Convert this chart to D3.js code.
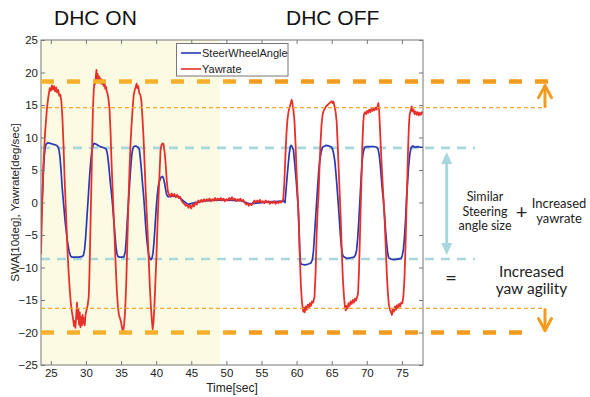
<!DOCTYPE html>
<html>
<head>
<meta charset="utf-8">
<script src="https://cdn.jsdelivr.net/npm/d3@7"></script>
<style>
  body { margin: 0; background: #fff; }
  svg { display: block; }
</style>
</head>
<body>
<div id="chart"></div>
<script>
// values, [time sec, value]
var swa = [
  [23.6,-4],[23.75,0],[23.9,4],[24.05,7],[24.2,8.6],[24.35,9.0],[24.6,9.2],[24.9,9.1],[25.2,9.0],[25.5,8.9],
  [25.8,8.8],[26.0,8.6],[26.15,8.2],[26.3,7],[26.45,5],[26.6,2.5],[26.8,0],[27.0,-2.5],[27.2,-4.5],[27.4,-6.2],
  [27.6,-7.5],[27.8,-8.2],[28.0,-8.4],[28.5,-8.4],[29.0,-8.4],[29.5,-8.3],[29.65,-8.1],[29.8,-7.3],[29.95,-5.5],
  [30.1,-3],[30.25,-0.5],[30.4,2],[30.55,4.5],[30.7,6.5],[30.85,8],[31.0,8.8],[31.15,9.1],[31.4,9.0],[31.7,8.8],
  [32.0,8.6],[32.3,8.5],[32.6,8.4],[32.9,8.2],[33.05,7.5],[33.2,6.2],[33.35,4.5],[33.5,2.8],[33.65,1.3],[33.8,-0.5],
  [33.95,-2.5],[34.1,-4.5],[34.25,-6.5],[34.4,-7.8],[34.55,-8.3],[34.8,-8.4],[35.1,-8.4],[35.4,-8.4],[35.6,-7.6],
  [35.75,-5.5],[35.9,-2.5],[36.05,0],[36.2,2.5],[36.35,5],[36.5,7],[36.65,8.2],[36.8,8.6],[37.1,8.7],[37.4,8.5],
  [37.6,8.2],[37.75,6.8],[37.9,5],[38.05,3],[38.2,1.2],[38.35,-1],[38.5,-3.5],[38.65,-5.5],[38.8,-7],[38.95,-8.1],
  [39.1,-8.6],[39.25,-8.8],[39.4,-8.6],[39.55,-7.8],[39.7,-6],[39.85,-3.5],[40.0,-1],[40.15,1],[40.3,2.5],[40.5,3.4],
  [40.7,3.9],[40.9,4.0],[41.05,3.7],[41.2,3.0],[41.35,2.0],[41.5,1.2],[41.7,0.9],[43.0,1.0],[44.5,-0.3],[46.5,0.2],
  [49.0,0.4],[52.0,0.3],[53.3,-0.2],[56.0,0.1],[58.2,0.2],
  [58.35,0],[58.5,2],[58.65,4],[58.8,5.8],[58.95,7.5],[59.1,8.5],[59.2,8.8],[59.35,8.6],[59.55,8.1],[59.75,5.8],
  [59.95,3.3],[60.1,1.2],[60.25,-1],[60.35,-4],[60.45,-7.5],[60.55,-9.2],[60.7,-9.5],[61.2,-9.6],[61.6,-9.5],
  [62.05,-9.3],[62.25,-8.8],[62.4,-7.5],[62.55,-5],[62.7,-2.5],[62.85,0],[63.0,2.5],[63.15,4.8],[63.3,6.5],
  [63.5,7.8],[63.7,8.5],[64.2,8.8],[64.6,8.7],[65.0,8.5],[65.15,8.1],[65.3,7.4],[65.45,6.3],[65.6,4.5],[65.75,2.5],
  [65.9,0.3],[66.05,-2],[66.2,-4.5],[66.35,-6.5],[66.5,-7.8],[66.65,-8.3],[67.2,-8.6],[67.7,-8.5],[68.2,-8.4],
  [68.4,-8.0],[68.55,-7.3],[68.7,-5.5],[68.85,-3],[69.05,1],[69.2,4],[69.35,6.5],[69.5,7.8],[69.7,8.5],[70.0,8.6],
  [70.5,8.6],[71.0,8.6],[71.4,8.5],[71.6,8.2],[71.75,7.4],[71.9,6],[72.05,4],[72.2,2],[72.35,0.5],[72.5,-1.5],
  [72.65,-4],[72.8,-6],[72.95,-7.6],[73.1,-8.5],[73.4,-8.7],[73.9,-8.8],[74.4,-8.7],[74.9,-8.6],[75.05,-8.1],
  [75.2,-7.3],[75.35,-5.5],[75.5,-3],[75.65,0.5],[75.8,3],[75.95,5.5],[76.1,7.2],[76.25,8.2],[76.4,8.6],
  [76.55,8.7],[76.8,8.5],[77.2,8.6],[77.6,8.5],[78.0,8.5]
];

var yawrate = [
  [23.6,-8],[23.75,-1],[23.95,6],[24.2,11],[24.45,14.5],[24.65,16.3],[24.85,17.6],[25.0,17.2],[25.15,18.0],
  [25.3,17.4],[25.45,17.9],[25.6,17.1],[25.75,17.7],[25.9,16.9],[26.05,17.3],[26.2,16.4],[26.35,16.6],[26.5,15.6],
  [26.65,13],[26.8,9],[26.95,4],[27.1,0],[27.25,-4],[27.4,-8],[27.55,-11],[27.7,-13.5],[27.85,-15.5],[28.0,-16.8],
  [28.15,-17.8],[28.3,-19.0],[28.4,-18.2],[28.5,-19.3],[28.62,-17.3],[28.72,-15.4],[28.82,-17.9],[28.92,-16.4],
  [29.02,-18.8],[29.12,-16.9],[29.22,-19.2],[29.32,-17.6],[29.42,-18.9],[29.52,-17.3],[29.62,-18.6],[29.72,-17.8],
  [29.82,-18.9],[29.95,-17.2],[30.1,-16.5],[30.25,-15.8],[30.4,-14.5],[30.5,-11],[30.6,-6],[30.7,-1],[30.8,4],
  [30.9,10],[31.0,14.5],[31.1,17],[31.2,18.6],[31.3,18.2],[31.4,19.3],[31.5,20.4],[31.58,19],[31.66,19.8],
  [31.76,18.7],[31.86,19.4],[31.96,18.5],[32.06,19.1],[32.16,18.3],[32.26,18.9],[32.36,18.2],[32.46,18.7],
  [32.56,17.9],[32.66,18.2],[32.76,17.5],[32.86,17.8],[32.96,17.1],[33.06,16.8],[33.2,16],[33.35,14.5],[33.5,11],
  [33.65,6],[33.8,2],[33.95,-2],[34.1,-6],[34.25,-10],[34.4,-13.5],[34.55,-16],[34.7,-17.3],[34.85,-17.8],
  [35.0,-18.4],[35.12,-19.2],[35.25,-19.8],[35.35,-19.5],[35.45,-18.6],[35.55,-17.2],[35.65,-15],[35.75,-12],
  [35.85,-8],[35.95,-4],[36.05,0],[36.2,5],[36.35,9],[36.5,12],[36.65,14.5],[36.8,16.5],[36.95,17.3],[37.1,17.8],
  [37.22,18.3],[37.32,17.6],[37.45,17.9],[37.6,16.8],[37.75,16.6],[37.9,15.6],[38.05,13],[38.2,10],[38.35,6],
  [38.5,2],[38.65,-1.5],[38.8,-5],[38.95,-9],[39.1,-13],[39.25,-16],[39.38,-18],[39.5,-19.5],[39.62,-18.5],
  [39.75,-16],[39.9,-12],[40.05,-8],[40.2,-3],[40.35,1],[40.5,5],[40.62,8],[40.75,8.8],[40.9,9.1],[41.05,9],
  [41.2,7.8],[41.35,6],[41.5,3.5],[41.65,1.8],[41.8,1.3],[42.0,0.9],[42.2,1.4],[42.4,1.0],[42.6,1.3],[42.8,0.8],
  [43.0,1.2],[43.2,0.7],[43.4,0.9],[43.6,0.3],[43.8,0.0],[44.0,-0.2],[44.2,-0.5],[44.4,-0.3],[44.6,-0.8],
  [44.8,-0.4],[45.0,-0.9],[45.2,-0.3],[45.4,-0.6],[45.6,0.0],[45.8,-0.3],[46.0,0.3],[46.2,0.0],[46.4,0.4],
  [46.6,0.1],[46.8,0.5],[47.0,0.2],[47.2,0.5],[47.4,0.3],[47.6,0.6],[47.8,0.2],[48.0,0.5],[48.2,0.3],[48.4,0.7],
  [48.6,0.3],[48.8,0.6],[49.0,0.4],[49.2,0.7],[49.4,0.3],[49.6,0.6],[49.8,0.2],[50.0,0.5],[50.2,0.3],[50.4,0.7],
  [50.6,0.4],[50.8,0.8],[51.0,0.4],[51.2,0.6],[51.4,0.2],[51.6,0.5],[51.8,0.3],[52.0,0.6],[52.2,0.2],[52.4,0.4],
  [52.6,0.0],[52.8,-0.3],[53.0,-0.1],[53.2,-0.5],[53.4,-0.2],[53.6,-0.4],[53.8,0.0],[54.0,0.3],[54.2,0.0],
  [54.4,0.3],[54.6,0.1],[54.8,0.4],[55.0,0.0],[55.2,0.2],[55.4,-0.1],[55.6,0.3],[55.8,0.0],[56.0,0.2],[56.2,-0.2],
  [56.4,0.1],[56.6,-0.1],[56.8,0.2],[57.0,-0.2],[57.2,0.1],[57.4,-0.1],[57.6,0.2],[57.8,0.0],[58.0,0.3],
  [58.1,0.5],[58.25,3],[58.4,7],[58.55,10.5],[58.7,12.8],[58.85,14],[59.0,14.6],[59.15,15.2],[59.3,15.8],
  [59.4,15.3],[59.55,14.2],[59.7,12.5],[59.85,9],[60.0,4.5],[60.15,1],[60.3,-3],[60.45,-8],[60.6,-12.5],
  [60.75,-15.2],[60.95,-16.8],[61.05,-16.2],[61.15,-16.9],[61.3,-16.0],[61.45,-16.5],[61.6,-15.7],[61.75,-16.2],
  [61.9,-15.5],[62.05,-15.9],[62.2,-15.2],[62.35,-15.4],[62.55,-14.5],[62.7,-11],[62.85,-5],[63.0,-1],[63.12,1],
  [63.25,5],[63.4,9],[63.55,12],[63.7,13.5],[63.85,14.1],[64.0,14.4],[64.2,14.8],[64.4,15.0],[64.6,15.2],
  [64.8,15.4],[65.0,15.6],[65.1,15.3],[65.25,15.5],[65.4,14.8],[65.55,14.0],[65.7,12.5],[65.85,9],[66.0,5],
  [66.15,1],[66.3,-3],[66.45,-8],[66.6,-12],[66.75,-14.5],[66.9,-16.2],[67.0,-16.6],[67.1,-15.9],[67.25,-16.3],
  [67.4,-15.5],[67.55,-15.9],[67.7,-15.2],[67.85,-15.6],[68.0,-15.0],[68.15,-15.4],[68.3,-14.8],[68.45,-15.1],
  [68.6,-14.6],[68.75,-14.0],[68.87,-11],[69.0,-6],[69.12,-1],[69.25,4],[69.37,9],[69.5,12.5],[69.6,13.6],
  [69.75,13.9],[69.9,13.6],[70.05,14.1],[70.2,13.8],[70.35,14.3],[70.5,13.9],[70.65,14.4],[70.8,14.1],[70.95,14.5],
  [71.1,14.2],[71.25,14.6],[71.4,14.3],[71.55,14.9],[71.65,15.3],[71.75,14.2],[71.85,12],[71.95,9.5],[72.1,6],
  [72.25,3],[72.4,0],[72.55,-3],[72.7,-7],[72.85,-11],[73.0,-14],[73.15,-15.8],[73.3,-16.5],[73.45,-16.9],
  [73.57,-17.3],[73.7,-16.4],[73.85,-16.8],[74.0,-16.0],[74.15,-16.5],[74.3,-15.8],[74.45,-16.2],[74.6,-15.6],
  [74.75,-16.0],[74.9,-15.4],[75.05,-15.5],[75.2,-14.5],[75.35,-12],[75.5,-7],[75.62,-2],[75.75,3],[75.87,8],
  [76.0,12],[76.1,13.5],[76.25,14.2],[76.4,14.8],[76.5,14.0],[76.65,14.3],[76.8,13.6],[76.95,14.0],[77.1,13.5],
  [77.25,13.9],[77.4,13.4],[77.55,13.8],[77.7,13.5],[77.85,13.9],[78.0,13.7]
];

var seriesNames = ["SteerWheelAngle", "Yawrate"];
var xTicks = [25, 30, 35, 40, 45, 50, 55, 60, 65, 70, 75];
var yTicks = [-25, -20, -15, -10, -5, 0, 5, 10, 15, 20, 25];
var dhcOnEnd = 49.07;             // end of shaded DHC ON part
var yawMaxLevels = [18.6, -20];   // thick orange
var yawOffLevels = [14.6, -16.3]; // thin orange
var swaLevels = [8.4, -8.7];      // cyan

var W = 590, H = 397;
var margin = { top: 40, right: 167, bottom: 32, left: 41 };

var x = d3.scaleLinear().domain([23.6, 78]).range([margin.left, W - margin.right]);
var y = d3.scaleLinear().domain([-25, 25]).range([H - margin.bottom, margin.top]);

var svg = d3.select("#chart").append("svg")
    .attr("width", W).attr("height", H)
    .style("font-family", "Arial, 'Liberation Sans', Helvetica, sans-serif");

var defs = svg.append("defs");
var grad = defs.append("linearGradient").attr("id", "orangeGrad")
    .attr("gradientUnits", "userSpaceOnUse")
    .attr("x1", 0).attr("x2", W).attr("y1", 0).attr("y2", 0);
grad.append("stop").attr("offset", x(dhcOnEnd) / W).attr("stop-color", "#f6b02c");
grad.append("stop").attr("offset", (x(dhcOnEnd) + 30) / W).attr("stop-color", "#f39b1e");

defs.append("clipPath").attr("id", "plotClip").append("rect")
    .attr("x", x.range()[0]).attr("y", y.range()[1])
    .attr("width", x.range()[1] - x.range()[0]).attr("height", y.range()[0] - y.range()[1]);

// shaded DHC ON area
svg.append("rect")
    .attr("x", x(23.6)).attr("y", y(25))
    .attr("width", x(dhcOnEnd) - x(23.6)).attr("height", y(-25) - y(25))
    .attr("fill", "#fbfbe4");

// cyan steering reference lines (under the signals)
svg.selectAll(".swaRef").data(swaLevels).enter().append("line")
    .attr("x1", x.range()[0]).attr("x2", 475)
    .attr("y1", d => y(d)).attr("y2", d => y(d))
    .attr("stroke", "#a9d8dc").attr("stroke-width", 2.6)
    .attr("stroke-dasharray", "9,7");

// signals
var line = d3.line().x(d => x(d[0])).y(d => y(d[1]));
var sig = svg.append("g").attr("clip-path", "url(#plotClip)");
sig.append("path").datum(swa).attr("d", line)
    .attr("fill", "none").attr("stroke", "#2a38b4").attr("stroke-width", 1.7)
    .attr("stroke-linejoin", "round");
sig.append("path").datum(yawrate).attr("d", line)
    .attr("fill", "none").attr("stroke", "#e8302a").attr("stroke-width", 1.8)
    .attr("stroke-linejoin", "round");

// axes box and inward ticks
var frame = svg.append("g").attr("stroke", "#777").attr("stroke-width", 1);
frame.append("rect")
    .attr("x", x.range()[0]).attr("y", y.range()[1])
    .attr("width", x.range()[1] - x.range()[0]).attr("height", y.range()[0] - y.range()[1])
    .attr("fill", "none");

var xAxisB = d3.axisBottom(x).tickValues(xTicks).tickSizeInner(-4).tickSizeOuter(0).tickPadding(4);
var xAxisT = d3.axisTop(x).tickValues(xTicks).tickSizeInner(-4).tickSizeOuter(0).tickFormat("");
var yAxisL = d3.axisLeft(y).tickValues(yTicks).tickSizeInner(-4).tickSizeOuter(0).tickPadding(3);
var yAxisR = d3.axisRight(y).tickValues(yTicks).tickSizeInner(-4).tickSizeOuter(0).tickFormat("");

function styleAxis(g) {
    g.select(".domain").remove();
    g.selectAll(".tick line").attr("stroke", "#777");
    g.selectAll(".tick text").attr("fill", "#222").style("font-size", "11.5px");
}
svg.append("g").attr("transform", "translate(0," + y.range()[0] + ")").call(xAxisB).call(styleAxis);
svg.append("g").attr("transform", "translate(0," + y.range()[1] + ")").call(xAxisT).call(styleAxis);
svg.append("g").attr("transform", "translate(" + x.range()[0] + ",0)").call(yAxisL).call(styleAxis);
svg.append("g").attr("transform", "translate(" + x.range()[1] + ",0)").call(yAxisR).call(styleAxis);

svg.append("text")
    .attr("x", 232).attr("y", 392)
    .attr("text-anchor", "middle").style("font-size", "12px").attr("fill", "#222")
    .text("Time[sec]");
svg.append("text")
    .attr("transform", "translate(19," + y(0) + ") rotate(-90)")
    .attr("text-anchor", "middle").style("font-size", "11.5px").attr("fill", "#222")
    .text("SWA[10deg], Yawrate[deg/sec]");

// orange reference lines (over the signals)
svg.append("line")
    .attr("x1", x.range()[0]).attr("x2", 550).attr("y1", y(yawMaxLevels[0])).attr("y2", y(yawMaxLevels[0]))
    .attr("stroke", "url(#orangeGrad)").attr("stroke-width", 4.5).attr("stroke-dasharray", "13,13");
svg.append("line")
    .attr("x1", x.range()[0]).attr("x2", 526).attr("y1", y(yawMaxLevels[1])).attr("y2", y(yawMaxLevels[1]))
    .attr("stroke", "url(#orangeGrad)").attr("stroke-width", 4.5).attr("stroke-dasharray", "13,13");
svg.selectAll(".offRef").data(yawOffLevels).enter().append("line")
    .attr("x1", x.range()[0]).attr("x2", 543)
    .attr("y1", d => y(d)).attr("y2", d => y(d))
    .attr("stroke", "#f3a433").attr("stroke-width", 1.3)
    .attr("stroke-dasharray", "4,3");

// orange arrows
var ax = 545;
var arrows = svg.append("g").attr("stroke", "#f39b1e").attr("stroke-width", 3)
    .attr("fill", "none").attr("stroke-linecap", "round").attr("stroke-linejoin", "round");
arrows.append("path").attr("d", "M" + ax + "," + (y(yawOffLevels[0]) - 1) + "V" + (y(yawMaxLevels[0]) + 4));
arrows.append("path").attr("d", "M" + (ax - 6.5) + "," + (y(yawMaxLevels[0]) + 16) + "L" + ax + "," + (y(yawMaxLevels[0]) + 4) + "L" + (ax + 6.5) + "," + (y(yawMaxLevels[0]) + 16));
arrows.append("path").attr("d", "M" + ax + "," + (y(yawOffLevels[1]) + 1) + "V" + (y(yawMaxLevels[1]) - 2));
arrows.append("path").attr("d", "M" + (ax - 6.5) + "," + (y(yawMaxLevels[1]) - 14) + "L" + ax + "," + (y(yawMaxLevels[1]) - 2) + "L" + (ax + 6.5) + "," + (y(yawMaxLevels[1]) - 14));

// cyan double arrow
var arrX = 446.7, arrTop = y(swaLevels[0]) + 4, arrBot = y(swaLevels[1]) - 4;
svg.append("line").attr("x1", arrX).attr("x2", arrX).attr("y1", arrTop + 10).attr("y2", arrBot - 10)
    .attr("stroke", "#a9d8dc").attr("stroke-width", 3);
svg.append("path").attr("d", "M" + arrX + "," + arrTop + "L" + (arrX - 5.5) + "," + (arrTop + 12) + "L" + (arrX + 5.5) + "," + (arrTop + 12) + "Z")
    .attr("fill", "#a9d8dc");
svg.append("path").attr("d", "M" + arrX + "," + arrBot + "L" + (arrX - 5.5) + "," + (arrBot - 12) + "L" + (arrX + 5.5) + "," + (arrBot - 12) + "Z")
    .attr("fill", "#a9d8dc");

// legend
var lg = svg.append("g");
lg.append("rect").attr("x", 176.5).attr("y", 43.5).attr("width", 111.5).attr("height", 32.5)
    .attr("fill", "#fff").attr("stroke", "#777");
var legColors = ["#2a38b4", "#e8302a"];
seriesNames.forEach(function(n, i) {
    var ly = 53 + i * 16;
    lg.append("line").attr("x1", 181).attr("x2", 201).attr("y1", ly).attr("y2", ly)
        .attr("stroke", legColors[i]).attr("stroke-width", 1.6);
    lg.append("text").attr("x", 202).attr("y", ly + 4).style("font-size", "11px")
        .attr("fill", "#222").text(n);
});

// titles and notes
svg.append("text").attr("x", 54).attr("y", 24.5).style("font-size", "21px").attr("fill", "#111").text("DHC ON");
svg.append("text").attr("x", 286).attr("y", 24.5).style("font-size", "21px").attr("fill", "#111").text("DHC OFF");

var noteFont = "Lato, 'Noto Sans', sans-serif";
function note(lines, cxp, y0, dy, size) {
    lines.forEach(function(s, i) {
        svg.append("text").attr("text-anchor", "middle").style("font-family", noteFont)
            .style("font-size", size + "px").attr("fill", "#222")
            .attr("x", cxp).attr("y", y0 + i * dy).text(s);
    });
}
note(["Similar", "Steering", "angle size"], 485, 201, 14.5, 12.5);
note(["Increased", "yawrate"], 559, 208, 15, 13);
note(["+"], 521.5, 219, 0, 20);
note(["="], 451, 285, 0, 20);
note(["Increased", "yaw agility"], 531.5, 277, 17, 15.5);
</script>
</body>
</html>
